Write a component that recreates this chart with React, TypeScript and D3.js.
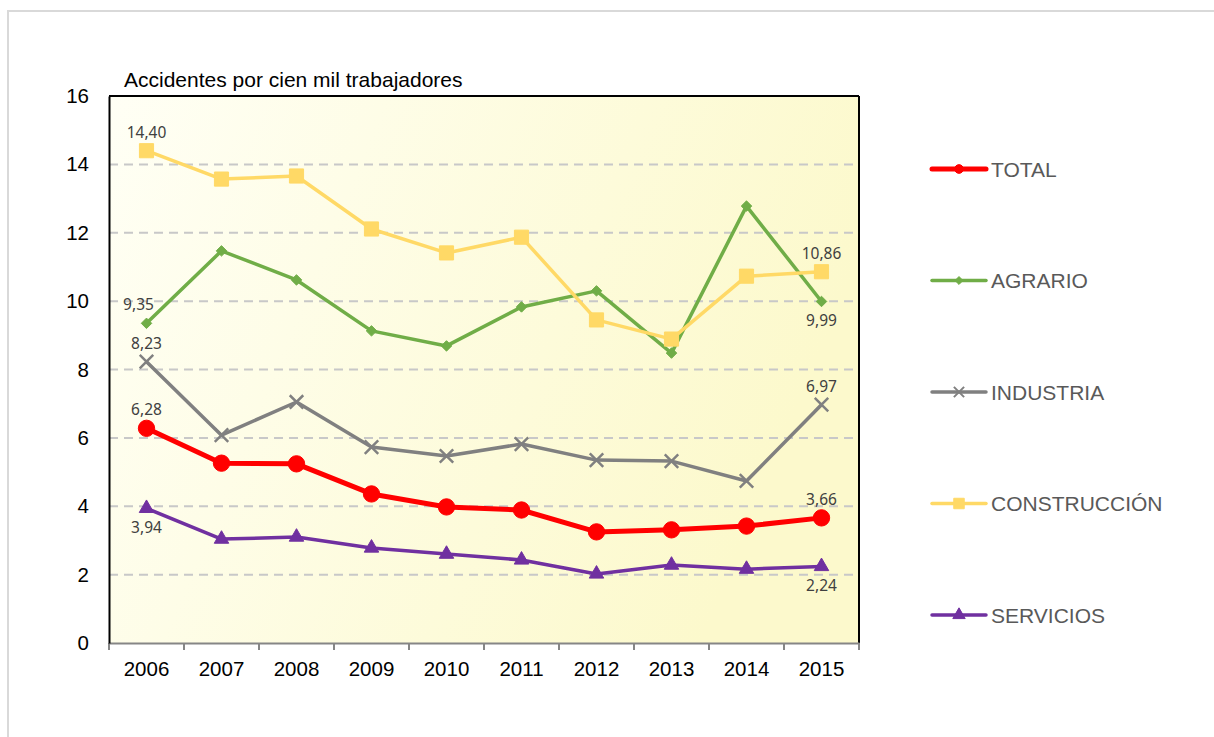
import React, { useEffect, useRef } from "react";
import * as d3 from "d3";

const years = ["2006", "2007", "2008", "2009", "2010", "2011", "2012", "2013", "2014", "2015"];
const total = [6.28, 5.26, 5.24, 4.36, 3.98, 3.89, 3.25, 3.31, 3.42, 3.66];
const agrario = [9.35, 11.47, 10.62, 9.13, 8.69, 9.83, 10.3, 8.48, 12.78, 9.99];
const industria = [8.23, 6.08, 7.05, 5.73, 5.47, 5.82, 5.35, 5.32, 4.74, 6.97];
const construccion = [14.4, 13.57, 13.66, 12.11, 11.41, 11.87, 9.45, 8.89, 10.73, 10.86];
const servicios = [3.94, 3.04, 3.1, 2.78, 2.6, 2.43, 2.02, 2.28, 2.16, 2.24];
const yTicks = [0, 2, 4, 6, 8, 10, 12, 14, 16];

const series = [
  { name: "TOTAL", values: total, color: "#ff0000", marker: "circle", width: 5, labels: ["above", "above"] },
  { name: "AGRARIO", values: agrario, color: "#70ad47", marker: "diamond", width: 3.5, labels: ["above", "below"] },
  { name: "INDUSTRIA", values: industria, color: "#808080", marker: "x", width: 3.5, labels: ["above", "above"] },
  { name: "CONSTRUCCIÓN", values: construccion, color: "#ffd966", marker: "square", width: 3.5, labels: ["above", "above"] },
  { name: "SERVICIOS", values: servicios, color: "#7030a0", marker: "triangle", width: 3.5, labels: ["below", "below"] },
];

const FONT = "Liberation Sans, Arial, sans-serif";

function App() {
  const svgRef = useRef(null);

  useEffect(() => {
    const svg = d3.select(svgRef.current);
    svg.selectAll("*").remove();

    const left = 109, right = 859, top = 96, bottom = 643;

    const x = d3.scaleBand().domain(years).range([left, right]);
    const y = d3.scaleLinear().domain([0, 16]).range([bottom, top]);
    const cx = (i) => x(years[i]) + x.bandwidth() / 2;

    // outer frame
    svg.append("rect").attr("x", 8).attr("y", 11).attr("width", 1220).attr("height", 740)
      .attr("fill", "white").attr("stroke", "#d9d9d9").attr("stroke-width", 2);

    const defs = svg.append("defs");
    const grad = defs.append("linearGradient").attr("id", "bg")
      .attr("x1", "0%").attr("y1", "0%").attr("x2", "100%").attr("y2", "30%");
    grad.append("stop").attr("offset", "0%").attr("stop-color", "#fffff5");
    grad.append("stop").attr("offset", "100%").attr("stop-color", "#fcf9cc");

    svg.append("rect").attr("x", left).attr("y", top).attr("width", right - left).attr("height", bottom - top)
      .attr("fill", "url(#bg)");

    // gridlines
    svg.append("g").selectAll("line").data(yTicks.filter((t) => t > 0 && t < 16)).enter().append("line")
      .attr("x1", left).attr("x2", right).attr("y1", (d) => y(d)).attr("y2", (d) => y(d))
      .attr("stroke", "#c8c8c8").attr("stroke-width", 2).attr("stroke-dasharray", "9,6");

    // frame lines
    svg.append("line").attr("x1", left).attr("x2", right).attr("y1", top).attr("y2", top)
      .attr("stroke", "#000").attr("stroke-width", 2);
    svg.append("line").attr("x1", right).attr("x2", right).attr("y1", top).attr("y2", bottom)
      .attr("stroke", "#000").attr("stroke-width", 2);

    // x axis
    const xa = svg.append("g").attr("transform", `translate(0,${bottom})`)
      .call(d3.axisBottom(x).tickSize(0).tickPadding(18));
    xa.select(".domain").attr("stroke", "#868686").attr("stroke-width", 2);
    xa.selectAll("text").attr("font-size", 20.5).attr("font-family", FONT).attr("fill", "#000");
    svg.append("g").selectAll("line").data(d3.range(years.length + 1)).enter().append("line")
      .attr("x1", (i) => left + i * x.step()).attr("x2", (i) => left + i * x.step())
      .attr("y1", bottom).attr("y2", bottom + 7).attr("stroke", "#868686").attr("stroke-width", 2);

    // y axis
    const ya = svg.append("g").attr("transform", `translate(${left},0)`)
      .call(d3.axisLeft(y).tickValues(yTicks).tickSize(0).tickPadding(20));
    ya.select(".domain").attr("stroke", "#000").attr("stroke-width", 2);
    ya.selectAll("text").attr("font-size", 20.5).attr("font-family", FONT).attr("fill", "#000");

    svg.append("text").attr("x", 124).attr("y", 87).attr("font-size", 21)
      .attr("font-family", FONT).text("Accidentes por cien mil trabajadores");

    const symbolFor = (m) => {
      if (m === "circle") return d3.symbol(d3.symbolCircle, 210)();
      if (m === "diamond") return d3.symbol(d3.symbolDiamond2, 70)();
      if (m === "square") return d3.symbol(d3.symbolSquare, 200)();
      if (m === "triangle") return d3.symbol(d3.symbolTriangle2, 150)();
      return d3.symbol(d3.symbolX, 120)();
    };

    const line = d3.line().x((d, i) => cx(i)).y((d) => y(d));

    series.forEach((s) => {
      const g = svg.append("g");
      g.append("path").datum(s.values).attr("d", line).attr("fill", "none")
        .attr("stroke", s.color).attr("stroke-width", s.width).attr("stroke-linejoin", "round");
      g.selectAll("path.m").data(s.values).enter().append("path").attr("class", "m")
        .attr("transform", (d, i) => `translate(${cx(i)},${y(d)})`)
        .attr("d", symbolFor(s.marker))
        .attr("fill", s.marker === "x" ? "none" : s.color)
        .attr("stroke", s.color)
        .attr("stroke-width", s.marker === "x" ? 2.5 : 1);

      // data labels on first and last points
      [0, s.values.length - 1].forEach((idx, k) => {
        const v = s.values[idx];
        const pos = s.labels[k];
        g.append("text").attr("x", cx(idx) + (s.name === "AGRARIO" && k === 0 ? -8 : 0))
          .attr("y", y(v) + (pos === "above" ? -13 : 25))
          .attr("text-anchor", "middle").attr("font-size", 15.5)
          .attr("font-family", "Noto Sans, Open Sans, sans-serif").attr("fill", "#404040")
          .text(d3.format(".2f")(v).replace(".", ","));
      });
    });

    // legend
    const lg = svg.append("g");
    series.forEach((s, i) => {
      const ly = 169 + i * 111.5;
      lg.append("line").attr("x1", 932).attr("x2", 986).attr("y1", ly).attr("y2", ly)
        .attr("stroke", s.color).attr("stroke-width", s.width).attr("stroke-linecap", "round");
      lg.append("path").attr("transform", `translate(959,${ly})`)
        .attr("d", d3.symbol(
          s.marker === "circle" ? d3.symbolCircle : s.marker === "diamond" ? d3.symbolDiamond2 :
          s.marker === "square" ? d3.symbolSquare : s.marker === "triangle" ? d3.symbolTriangle2 : d3.symbolX,
          s.marker === "circle" ? 60 : s.marker === "diamond" ? 40 : s.marker === "square" ? 110 : s.marker === "triangle" ? 110 : 70)())
        .attr("fill", s.marker === "x" ? "none" : s.color).attr("stroke", s.color)
        .attr("stroke-width", s.marker === "x" ? 2 : 1);
      lg.append("text").attr("x", 991).attr("y", ly + 7.5).attr("font-size", 21)
        .attr("font-family", FONT).attr("fill", "#595959").text(s.name);
    });
  }, []);

  return (
    <div>
      <svg ref={svgRef} width={1214} height={737} style={{ position: "absolute", left: 0, top: 0 }}></svg>
    </div>
  );
}

export default App;
